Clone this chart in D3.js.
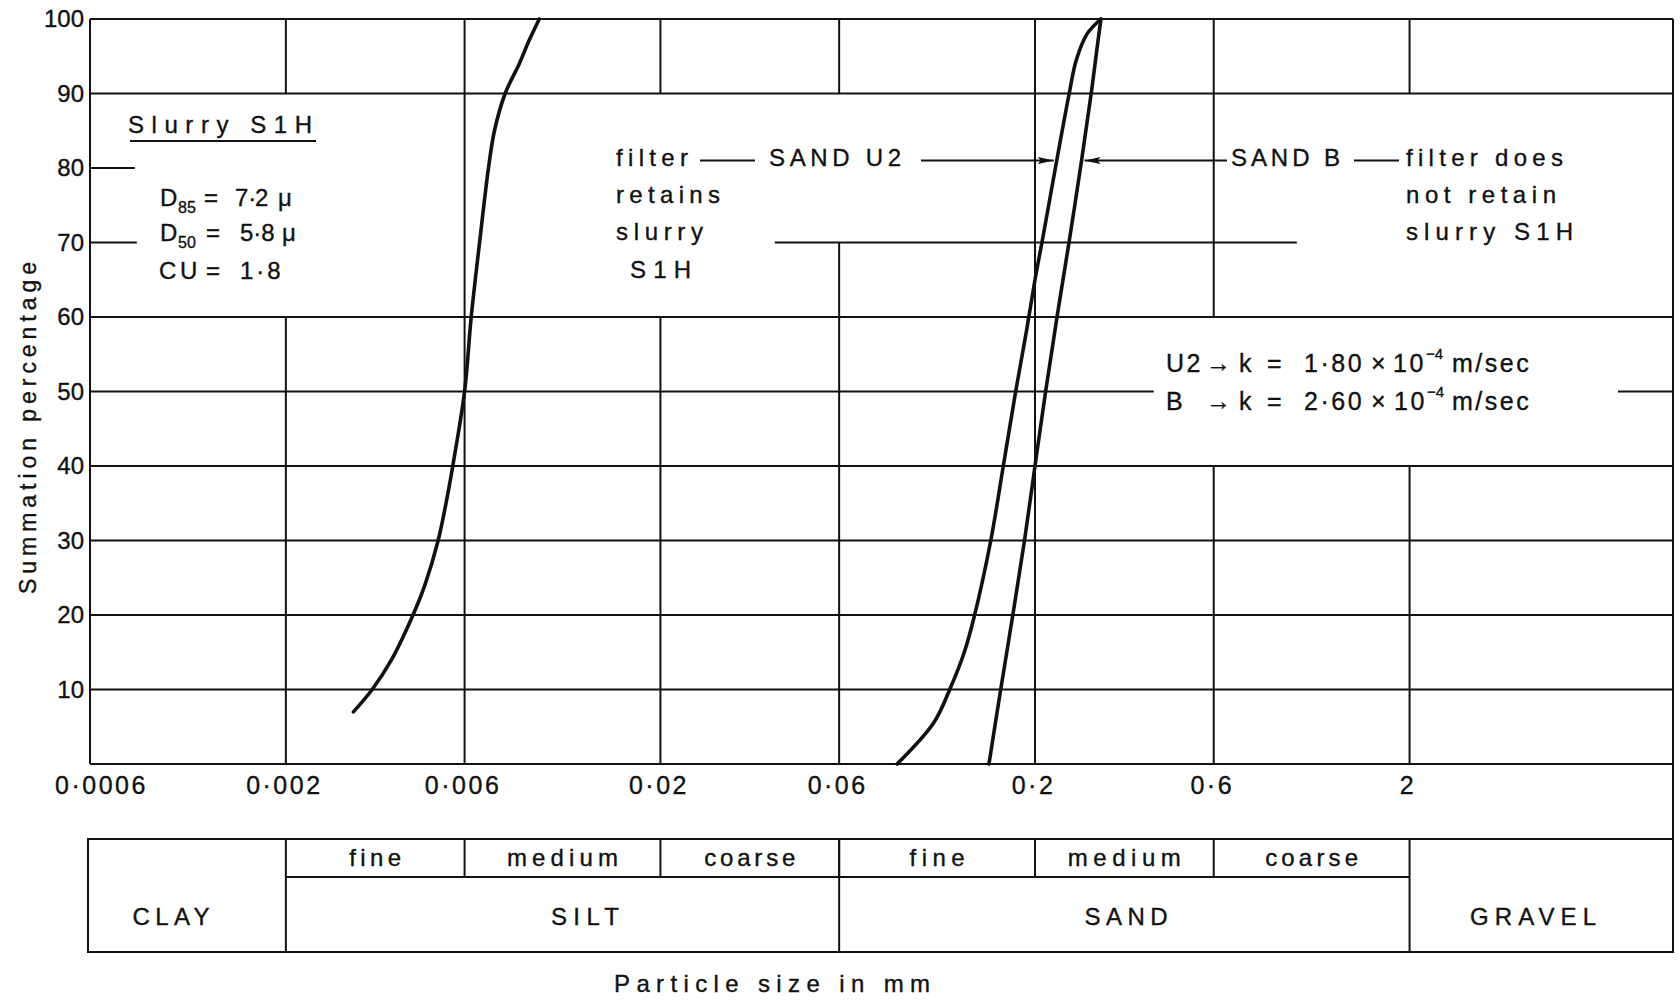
<!DOCTYPE html>
<html>
<head>
<meta charset="utf-8">
<script src="https://cdn.jsdelivr.net/npm/d3@7"></script>
<style>
    body { margin: 0; background: #fff; }
    text { font-family: "Liberation Sans", Arial, sans-serif; fill: #111; stroke: #111; stroke-width: 0.35px; }
</style>
</head>
<body>
<div id="grading-chart"></div>
<script>
// grading curves: particle size (mm) vs summation percentage
var slurrySize = [0.00303, 0.0034, 0.00383, 0.00437, 0.0047, 0.0051, 0.0054, 0.00558, 0.006, 0.00625, 0.00658, 0.00695, 0.00721, 0.0077, 0.0084, 0.0089, 0.0095];
var slurryPct  = [7, 10, 14, 20, 24, 30, 36, 40, 50, 60, 70, 80, 85, 90, 94, 97, 100];

var sandU2Size = [0.0857, 0.1072, 0.1184, 0.1295, 0.138, 0.1524, 0.1646, 0.1776, 0.1896, 0.2, 0.2105, 0.2286, 0.2468, 0.2578, 0.2755, 0.300];
var sandU2Pct  = [0, 5.5, 10, 15, 20, 30, 40, 50, 58, 65, 71, 81, 90, 94.5, 98, 100];

var sandBSize = [0.1507, 0.162, 0.1745, 0.1875, 0.2, 0.2135, 0.229, 0.2465, 0.2663, 0.2825, 0.2945, 0.300];
var sandBPct  = [0, 10, 20, 30, 40, 50, 60, 70, 81, 90, 97, 100];

var xTicks = [0.0006, 0.002, 0.006, 0.02, 0.06, 0.2, 0.6, 2];
var xTickLabels = ["0·0006", "0·002", "0·006", "0·02", "0·06", "0·2", "0·6", "2"];
var yTicks = [10, 20, 30, 40, 50, 60, 70, 80, 90, 100];

var soilNames = ["CLAY", "SILT", "SAND", "GRAVEL"];
var soilBounds = [0.0006, 0.002, 0.06, 2, 10.1];
var subNames = ["fine", "medium", "coarse", "fine", "medium", "coarse"];
var subBounds = [0.002, 0.006, 0.02, 0.06, 0.2, 0.6, 2];

var width = 1680, height = 1000;

var svg = d3.select("#grading-chart")
    .append("svg")
    .attr("width", width)
    .attr("height", height);

var x = d3.scaleLog()
    .domain([0.0006, 10.1])
    .range([90, 1673]);

var y = d3.scaleLinear()
    .domain([0, 100])
    .range([764, 19]);

var ink = "#111";

// grid is broken where the notes sit, so each line is given as spans
var vGrid = [
    { size: 0.002, spans: [[0, 60], [90, 100]] },
    { size: 0.006, spans: [[0, 100]] },
    { size: 0.02, spans: [[0, 60], [90, 100]] },
    { size: 0.06, spans: [[0, 70], [90, 100]] },
    { size: 0.2, spans: [[0, 100]] },
    { size: 0.6, spans: [[0, 40], [60, 100]] },
    { size: 2, spans: [[0, 40], [90, 100]] }
];
var full = [0.0006, 10.1];
var hGrid = [
    { pct: 10, spans: [full] },
    { pct: 20, spans: [full] },
    { pct: 30, spans: [full] },
    { pct: 40, spans: [full] },
    { pct: 50, spans: [[0.0006, 0.415], [7.2, 10.1]] },
    { pct: 60, spans: [full] },
    { pct: 70, spans: [[0.0006, 0.0008], [0.0404, 1.0]] },
    { pct: 80, spans: [[0.0006, 0.00079]] },
    { pct: 90, spans: [full] },
    { pct: 100, spans: [full] }
];

var grid = svg.append("g")
    .attr("stroke", ink)
    .attr("stroke-width", 2);

vGrid.forEach(function (g) {
    g.spans.forEach(function (s) {
        grid.append("line")
            .attr("x1", x(g.size)).attr("x2", x(g.size))
            .attr("y1", y(s[0])).attr("y2", y(s[1]));
    });
});
hGrid.forEach(function (g) {
    g.spans.forEach(function (s) {
        grid.append("line")
            .attr("x1", x(s[0])).attr("x2", x(s[1]))
            .attr("y1", y(g.pct)).attr("y2", y(g.pct));
    });
});

// table under the plot
var tableTop = 839, tableMid = 877, tableBottom = 952;

// frame: left axis, bottom axis, right edge running down through the table
grid.append("line")
    .attr("x1", x(0.0006)).attr("x2", x(0.0006))
    .attr("y1", y(100)).attr("y2", y(0));
grid.append("line")
    .attr("x1", x(0.0006)).attr("x2", x(10.1))
    .attr("y1", y(0)).attr("y2", y(0));
grid.append("line")
    .attr("x1", x(10.1)).attr("x2", x(10.1))
    .attr("y1", y(100)).attr("y2", tableBottom);

// axes (labels only)
var xAxis = svg.append("g")
    .attr("transform", "translate(0," + y(0) + ")")
    .call(d3.axisBottom(x)
        .tickValues(xTicks)
        .tickFormat(function (d, i) { return xTickLabels[i]; })
        .tickSize(0)
        .tickPadding(12));
xAxis.select(".domain").remove();
xAxis.selectAll("text")
    .attr("fill", ink)
    .attr("dx", function (d, i) { return i === 0 ? 11 : -2; })
    .style("font-size", "25px")
    .style("letter-spacing", "2.5px");

var yAxis = svg.append("g")
    .attr("transform", "translate(" + x(0.0006) + ",0)")
    .call(d3.axisLeft(y)
        .tickValues(yTicks)
        .tickSize(0)
        .tickPadding(6));
yAxis.select(".domain").remove();
yAxis.selectAll("text")
    .attr("fill", ink)
    .style("font-size", "24px");

svg.append("text")
    .attr("transform", "translate(36,428) rotate(-90)")
    .attr("text-anchor", "middle")
    .attr("textLength", 332)
    .attr("lengthAdjust", "spacing")
    .style("font-size", "23px")
    .text("Summation percentage");

// curves
var line = d3.line()
    .x(function (d) { return x(d[0]); })
    .y(function (d) { return y(d[1]); })
    .curve(d3.curveCatmullRom.alpha(0.5));

[[slurrySize, slurryPct], [sandU2Size, sandU2Pct], [sandBSize, sandBPct]].forEach(function (c) {
    svg.append("path")
        .datum(d3.zip(c[0], c[1]))
        .attr("fill", "none")
        .attr("stroke", ink)
        .attr("stroke-width", 3.6)
        .attr("stroke-linecap", "round")
        .attr("d", line);
});

// notes
function note(t, px, py, w, size) {
    return svg.append("text")
        .attr("x", px).attr("y", py)
        .attr("textLength", w)
        .attr("lengthAdjust", "spacing")
        .style("font-size", (size || 24) + "px")
        .text(t);
}

// a note set piece by piece inside one text element: [text, x, dy-from-baseline, font size]
function pieces(py, size, parts) {
    var t = svg.append("text").attr("y", py).style("font-size", size + "px");
    parts.forEach(function (p) {
        t.append("tspan")
            .attr("x", p[1])
            .attr("y", py + (p[2] || 0))
            .style("font-size", (p[3] || size) + "px")
            .text(p[0]);
    });
    return t;
}

note("Slurry S1H", 128, 133, 184);
svg.append("line")
    .attr("x1", 130).attr("x2", 316)
    .attr("y1", 141).attr("y2", 141)
    .attr("stroke", ink).attr("stroke-width", 2);

pieces(206, 24, [["D", 160], ["85", 178, 7, 16], ["=", 204], ["7·", 235], ["2", 255], ["μ", 278]]);
pieces(241, 24, [["D", 160], ["50", 178, 7, 16], ["=", 206], ["5·8", 240], ["μ", 282]]);
pieces(279, 24, [["C", 159], ["U", 180], ["=", 206], ["1·8", 240]]).style("letter-spacing", "3px");

note("filter", 616, 166, 72);
note("SAND U2", 769, 166, 132);
note("retains", 616, 203, 104);
note("slurry", 616, 240, 87);
note("S1H", 630, 278, 61);

note("SAND B", 1231, 166, 109);
note("filter does", 1406, 166, 157);
note("not retain", 1406, 203, 150);
note("slurry S1H", 1406, 240, 167);

var notesLines = svg.append("g").attr("stroke", ink).attr("stroke-width", 2);
notesLines.append("line").attr("x1", 700).attr("x2", 755).attr("y1", y(81)).attr("y2", y(81));
notesLines.append("line").attr("x1", 1354).attr("x2", 1399).attr("y1", y(81)).attr("y2", y(81));

svg.append("defs").append("marker")
    .attr("id", "arrow")
    .attr("viewBox", "0 0 16 7")
    .attr("refX", 16).attr("refY", 3.5)
    .attr("markerWidth", 16).attr("markerHeight", 7)
    .attr("markerUnits", "userSpaceOnUse")
    .attr("orient", "auto")
    .append("path")
    .attr("d", "M0,0L16,3.5L0,7L3,3.5Z")
    .attr("fill", ink);

notesLines.append("line")
    .attr("x1", 921).attr("x2", x(sandU2Size[11]) - 3)
    .attr("y1", y(sandU2Pct[11])).attr("y2", y(sandU2Pct[11]))
    .attr("marker-end", "url(#arrow)");
notesLines.append("line")
    .attr("x1", 1227).attr("x2", x(sandBSize[8]) + 3)
    .attr("y1", y(sandBPct[8])).attr("y2", y(sandBPct[8]))
    .attr("marker-end", "url(#arrow)");

// permeability lines
var kU2 = pieces(372, 25, [["U2", 1166], ["→", 1206], ["k", 1239], ["=", 1267], ["1·80", 1304], ["×", 1371],
    ["10", 1393], ["−4", 1426, -13, 15], ["m/sec", 1452]])
    .style("letter-spacing", "2.5px");
var kB = pieces(410, 25, [["B", 1166], ["→", 1206], ["k", 1239], ["=", 1267], ["2·60", 1304], ["×", 1371],
    ["10", 1394], ["−4", 1427, -13, 15], ["m/sec", 1452]])
    .style("letter-spacing", "2.5px");
kU2.selectAll("tspan").filter(function (d, i) { return i === 7; }).style("letter-spacing", "0px");
kB.selectAll("tspan").filter(function (d, i) { return i === 7; }).style("letter-spacing", "0px");

// classification table
var table = svg.append("g").attr("stroke", ink).attr("stroke-width", 2).attr("fill", "none");
table.append("rect")
    .attr("x", x(soilBounds[0]) - 2).attr("y", tableTop)
    .attr("width", x(soilBounds[4]) - x(soilBounds[0]) + 2)
    .attr("height", tableBottom - tableTop);
soilBounds.slice(1, 4).forEach(function (b) {
    table.append("line").attr("x1", x(b)).attr("x2", x(b)).attr("y1", tableTop).attr("y2", tableBottom);
});
table.append("line")
    .attr("x1", x(subBounds[0])).attr("x2", x(subBounds[6]))
    .attr("y1", tableMid).attr("y2", tableMid);
subBounds.slice(1, 6).forEach(function (b) {
    table.append("line").attr("x1", x(b)).attr("x2", x(b)).attr("y1", tableTop).attr("y2", tableMid);
});

var subWidths = [52, 111, 91, 55, 113, 93];
subNames.forEach(function (n, i) {
    svg.append("text")
        .attr("x", (x(subBounds[i]) + x(subBounds[i + 1])) / 2)
        .attr("y", 866)
        .attr("text-anchor", "middle")
        .attr("textLength", subWidths[i])
        .attr("lengthAdjust", "spacing")
        .style("font-size", "24px")
        .text(n);
});

var soilWidths = [77, 68, 83, 126];
var soilCentres = [171, 585, 1126, 1533];
soilNames.forEach(function (n, i) {
    svg.append("text")
        .attr("x", soilCentres[i])
        .attr("y", 925)
        .attr("text-anchor", "middle")
        .attr("textLength", soilWidths[i])
        .attr("lengthAdjust", "spacing")
        .style("font-size", "24px")
        .text(n);
});

svg.append("text")
    .attr("x", 772).attr("y", 992)
    .attr("text-anchor", "middle")
    .attr("textLength", 316)
    .attr("lengthAdjust", "spacing")
    .style("font-size", "24px")
    .text("Particle size in mm");
</script>
</body>
</html>
